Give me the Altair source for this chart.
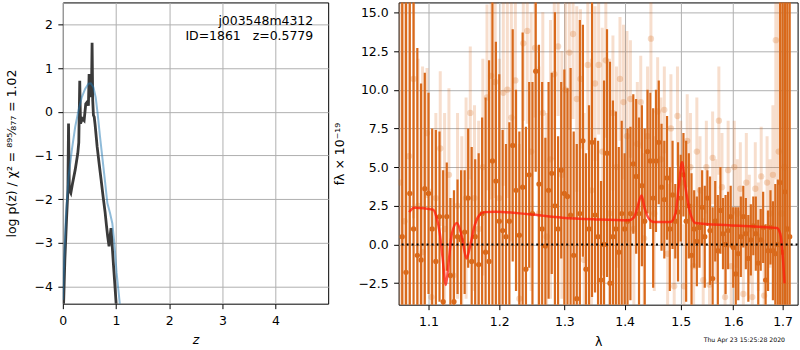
import altair as alt
import pandas as pd

# ---------------- left panel: redshift PDF ----------------
z_pz = [0.0, 0.013, 0.038, 0.069, 0.095, 0.107, 0.122, 0.15, 0.182, 0.232,
        0.281, 0.30, 0.318, 0.332, 0.369, 0.4, 0.431, 0.457, 0.481, 0.494,
        0.513, 0.525, 0.537, 0.55, 0.562, 0.575, 0.59, 0.607, 0.645, 0.682,
        0.72, 0.757, 0.795, 0.82, 0.843, 0.869, 0.888, 0.906, 0.925, 0.949,
        0.98, 1.0, 1.02]
logp_pz = [-4.6, -4.44, -3.38, -2.47, -1.8, -0.27, -1.79, -1.86, -1.64, -1.33,
           -0.95, -0.7, 0.71, -0.27, -0.16, -0.2, 0.18, 0.22, 0.14, 0.86,
           0.6, 0.83, 0.33, 1.58, 0.26, -0.08, -0.12, -0.3, -0.8, -1.18,
           -1.56, -1.94, -2.3, -2.6, -2.85, -3.08, -2.85, -2.66, -3.0, -3.45,
           -3.99, -4.35, -4.75]

z_chi = [0.0, 0.026, 0.056, 0.107, 0.169, 0.232, 0.294, 0.356, 0.419, 0.481,
         0.525, 0.575, 0.618, 0.655, 0.70, 0.749, 0.79, 0.837, 0.888, 0.93,
         0.968, 1.011, 1.056, 1.08]
logp_chi = [-4.3, -3.38, -2.4, -1.49, -0.88, -0.35, 0.03, 0.33, 0.52, 0.64,
            0.65, 0.56, 0.33, -0.05, -0.58, -1.11, -1.56, -2.09, -2.32, -2.55,
            -3.0, -3.68, -4.21, -4.5]

z_ticks = [0, 1, 2, 3, 4]
logp_ticks = [-4, -3, -2, -1, 0, 1, 2]

field_name = "j003548m4312"
id_label = "ID=1861\u00a0\u00a0\u00a0z=0.5779"
left_ytitle = "log p(z) / \u03c7\u00b2 = \u2078\u2079\u2075\u2044\u2088\u2087\u2087 = 1.02"

# ---------------- right panel: 1D spectrum ----------------
dark_wave = [
    1.065, 1.070, 1.075, 1.080, 1.085, 1.090, 1.095,
    1.100, 1.105, 1.110, 1.115, 1.120, 1.125, 1.130, 1.135, 1.140, 1.145,
    1.150, 1.155, 1.160, 1.165, 1.170, 1.175, 1.180, 1.185, 1.190, 1.195,
    1.200, 1.205, 1.210, 1.215, 1.220, 1.225, 1.230, 1.235, 1.240, 1.245,
    1.250, 1.255, 1.260, 1.265, 1.270, 1.275, 1.280, 1.285, 1.290, 1.295,
    1.300, 1.305, 1.310, 1.315, 1.320, 1.325, 1.330, 1.335, 1.340, 1.345,
    1.350,
    1.355, 1.360, 1.365, 1.370, 1.375, 1.380, 1.385, 1.390, 1.395, 1.400,
    1.405, 1.410, 1.415, 1.420, 1.425, 1.430, 1.435, 1.440, 1.445, 1.450,
    1.455, 1.460, 1.465, 1.470, 1.475, 1.480, 1.485, 1.490, 1.495, 1.500,
    1.505, 1.510, 1.515, 1.520, 1.525, 1.530,
    1.535, 1.540, 1.545, 1.550, 1.555, 1.560, 1.565, 1.570, 1.575, 1.580,
    1.585, 1.590, 1.595, 1.600, 1.605, 1.610, 1.615, 1.620, 1.625, 1.630,
    1.635, 1.640, 1.645, 1.650, 1.655, 1.660, 1.665, 1.670, 1.675, 1.680,
    1.685, 1.690,
    1.695, 1.700, 1.705, 1.710, 1.715,
]
dark_flux = [
    0.5, -1.8, 3.3, 1.0, -0.7, -1.0, 3.6,
    3.3, 1.0, -1.1, 1.8, -3.7, 1.8, -2.0, -3.7, 0.5, 0.3,
    0.8, 3.0, -1.1, 0.5, -1.3, 2.0, -0.5, -1.1, 5.4, 4.1,
    1.5, 0.9, 0.5, 1.5, 6.4, 3.5, 0.6, 3.7, -1.6, 4.5,
    2.0, 11.2, 3.9, 1.0, -0.1, 3.5, 4.6, 2.5, 1.0, 4.8,
    3.3, 3.1, 1.9, -0.7, -3.5, 2.0, 6.7, -1.6, 1.0, 6.6,
    1.9,
    0.5, -2.3, 0.0, 5.9, -2.5, 0.5, 1.0, -0.5, 2.0, 1.0,
    1.5, 2.0, 5.2, 4.4, 2.0, 3.8, 1.5, 6.0, 5.4, 3.0,
    5.4, 6.6, 3.7, 2.9, 4.3, 1.0, 3.2, 1.5, 2.1, 3.0,
    4.5, 1.5, 2.5, -0.7, 1.0, 0.2,
    1.1, 2.4, 0.5, 3.0, 0.9, -2.2, 1.5, -0.4, 2.2, 0.7,
    0.0, 0.9, 1.8, -0.2, -1.9, -0.6, 0.5, 1.8, 0.7, -0.9,
    0.3, 1.2, 0.7, -1.2, 0.3, 1.1, -2.3, -0.4, 1.1, -0.4,
    -0.6, 0.0,
    4.0, -0.5, 3.4, 1.0, 0.5,
]
dark_err = [
    18, 18, 17, 16, 13.4, 11.4, 7.5,
    6.5, 6.5, 8.5, 5.5, 8.5, 3.5, 5.0, 7.2, 3.7, 4.5,
    4.0, 4.5, 7.4, 5.0, 7.2, 6.2, 10.0, 13.0, 10.5, 9.0,
    9.5, 6.5, 6.0, 6.4, 7.5, 6.5, 6.7, 10.0, 9.2, 6.0,
    8.5, 6.5, 9.0, 9.5, 7.0, 7.0, 6.5, 12.5, 6.0, 5.7,
    8.0, 7.0, 9.5, 8.0, 10.0, 12.5, 7.5, 7.5, 8.0, 10.0,
    5.0,
    6.2, 6.4, 10.6, 8.0, 14.3, 8.8, 7.6, 6.8, 6.0, 4.9,
    6.0, 5.6, 4.5, 5.0, 6.2, 5.2, 6.0, 4.0, 4.4, 5.8,
    4.6, 4.0, 4.1, 3.8, 4.0, 4.0, 3.5, 2.4, 4.5, 2.8,
    2.7, 5.2, 3.4, 5.3, 2.5, 2.9,
    2.6, 2.4, 3.3, 1.8, 3.5, 4.6, 2.6, 3.6, 2.8, 2.3,
    3.2, 2.5, 2.0, 2.6, 4.3, 3.0, 2.6, 2.0, 2.3, 2.8,
    2.3, 1.9, 2.4, 2.8, 2.0, 2.3, 3.6, 2.6, 2.4, 3.2,
    4.5, 4.2,
    20, 20, 20, 20, 20,
]

light_wave = [
    1.062, 1.068, 1.074, 1.080, 1.086, 1.092, 1.098, 1.104, 1.110, 1.116,
    1.122, 1.128, 1.134, 1.140, 1.146, 1.152, 1.158, 1.164, 1.170, 1.176,
    1.182, 1.188, 1.194, 1.200, 1.206, 1.212, 1.218, 1.224, 1.230, 1.236,
    1.242, 1.248, 1.254, 1.260, 1.266, 1.272, 1.278, 1.284, 1.290, 1.296,
    1.302, 1.308, 1.314, 1.320, 1.326, 1.332, 1.338, 1.344, 1.350, 1.356,
    1.362, 1.368, 1.374, 1.380, 1.386, 1.392, 1.398, 1.404, 1.410, 1.416,
    1.422, 1.428, 1.434, 1.440, 1.446, 1.452, 1.458, 1.464, 1.470, 1.476,
    1.482, 1.488, 1.494, 1.500, 1.506, 1.512, 1.518, 1.524, 1.530, 1.536,
    1.542, 1.548, 1.554, 1.560, 1.566, 1.572, 1.578, 1.584, 1.590, 1.596,
    1.602, 1.608, 1.614, 1.620, 1.626, 1.632, 1.638, 1.644, 1.650, 1.656,
    1.662, 1.668, 1.674, 1.680, 1.686, 1.692, 1.698, 1.704, 1.710,
]
light_flux = [
    4.0, 1.5, 5.7, 10.7, 2.5, -0.5, 7.2, -3.4, 3.0, 6.2,
    1.0, 4.5, -2.0, 2.5, 0.5, 3.0, 8.5, 3.0, 1.0, 5.0,
    9.5, 10.9, 10.5, 3.0, 9.8, 10.0, 8.2, 10.6, -3.5, 13.0,
    13.8, 6.0, 12.7, 2.0, 8.5, 0.5, 5.5, 11.0, 12.8, 4.5,
    10.0, 12.4, 13.6, 9.4, 10.7, -1.0, 11.6, 3.5, 10.4, 11.6,
    6.0, 11.9, 2.0, 8.5, 5.0, 10.7, 9.2, 7.0, 9.4, 1.0,
    6.5, 9.2, 0.4, 7.0, 13.3, 2.0, 8.6, 5.5, 8.7, -0.6,
    7.5, -2.7, 8.3, 4.0, -2.7, 6.7, 5.0, -1.4, 6.0, 3.5,
    -2.3, 5.0, -2.6, 5.6, 1.5, 8.0, 3.7, -3.4, 4.8, -1.4,
    5.0, 2.0, 3.6, -3.2, 4.0, 1.0, -3.4, 3.6, 0.5, 4.4,
    -3.3, 4.0, 2.0, 4.5, 13.2, 6.0, 2.0, 5.0, 1.0,
]
light_err = [
    15, 16, 12, 9, 9.5, 12, 4.2, 7.0, 5.5, 5.0,
    7.5, 5.6, 5.0, 6.0, 6.5, 6.5, 4.3, 6.0, 7.0, 7.0,
    6.0, 8.0, 7.5, 9.0, 6.0, 7.0, 8.0, 7.0, 10.0, 5.0,
    6.0, 9.0, 4.5, 9.5, 6.5, 8.0, 9.0, 5.5, 4.5, 8.0,
    6.5, 5.0, 5.5, 6.0, 4.5, 9.5, 5.5, 8.5, 5.0, 4.5,
    8.0, 5.0, 10.0, 5.0, 6.5, 4.0, 5.0, 6.8, 3.8, 6.5,
    4.0, 3.0, 5.5, 4.5, 3.5, 5.0, 3.5, 4.0, 2.8, 4.5,
    3.5, 4.5, 3.2, 4.0, 4.0, 3.0, 3.5, 4.0, 3.5, 3.5,
    4.0, 3.0, 3.8, 3.0, 4.0, 3.5, 3.5, 4.0, 3.2, 3.8,
    3.0, 3.5, 3.0, 4.0, 3.2, 3.5, 3.8, 3.0, 3.5, 3.2,
    3.6, 3.0, 3.5, 4.5, 9.0, 16, 18, 18, 18,
]

model_wave = [1.0742, 1.0808, 1.1063, 1.1108, 1.1155, 1.1191, 1.1238, 1.1274, 1.1321, 1.1391,
              1.1461, 1.1526, 1.1575, 1.1636, 1.1708, 1.1780, 1.1950, 1.2448, 1.2967, 1.3509,
              1.4072, 1.4158, 1.4216, 1.4293, 1.4351, 1.4422, 1.4511, 1.4811, 1.4902, 1.4963,
              1.5024, 1.5087, 1.5180, 1.5273, 1.5910, 1.6573, 1.6881, 1.6952, 1.7000, 1.7042]
model_flux = [2.09, 2.38, 2.25, 1.77, 0.70, -0.80, -2.62, -1.23, 0.70, 1.39,
              0.49, -0.90, -0.16, 1.13, 1.88, 2.09, 2.12, 1.95, 1.73, 1.62,
              1.56, 1.73, 2.31, 3.17, 2.31, 1.67, 1.45, 1.45, 1.99, 3.70,
              5.31, 3.70, 1.99, 1.39, 1.24, 1.13, 1.06, 0.70, -0.58, -2.51]

wave_ticks = [1.1, 1.2, 1.3, 1.4, 1.5, 1.6, 1.7]
flux_ticks = [-2.5, 0.0, 2.5, 5.0, 7.5, 10.0, 12.5, 15.0]
right_ytitle = "f\u03bb \u00d7 10\u207b\u00b9\u2079"
timestamp = "Thu Apr 23 15:25:28 2020"

FONT = "DejaVu Sans"
DARK = "#d96a1c"

# ---------------- build left chart ----------------
pz_df = pd.DataFrame({"z": z_pz, "logp": logp_pz})
chi_df = pd.DataFrame({"z": z_chi, "logp": logp_chi})

zx = alt.X("z:Q", scale=alt.Scale(domain=[0, 4.99], nice=False, zero=False),
           axis=alt.Axis(values=z_ticks, format="d", title="z", titleFontStyle="italic",
                         titleY=39.6, titleBaseline="alphabetic"))
ly = alt.Y("logp:Q", scale=alt.Scale(domain=[-4.39, 2.5], nice=False, zero=False),
           axis=alt.Axis(values=logp_ticks, format="d", title=left_ytitle,
                         titleX=-47.5, titleBaseline="alphabetic"))

black_line = alt.Chart(pz_df).mark_line(color="#3a3a3a", strokeWidth=2.8, clip=True).encode(
    x=zx, y=ly, order="z:Q")
blue_line = alt.Chart(chi_df).mark_line(color="#1f77b4", opacity=0.5, strokeWidth=2, clip=True).encode(
    x=zx, y=ly, order="z:Q")

txt_df = pd.DataFrame({"a": [field_name], "b": [id_label]})
t1 = alt.Chart(txt_df).mark_text(align="right", baseline="alphabetic", font=FONT,
                                 fontSize=12.5, color="black").encode(
    x=alt.value(251), y=alt.value(22.7), text="a:N")
t2 = alt.Chart(txt_df).mark_text(align="right", baseline="alphabetic", font=FONT,
                                 fontSize=12.5, color="black").encode(
    x=alt.value(251), y=alt.value(38.0), text="b:N")

left = alt.layer(black_line, blue_line, t1, t2).properties(width=266, height=302)

# ---------------- build right chart ----------------
dark_df = pd.DataFrame({"wave": dark_wave, "flux": dark_flux, "err": dark_err})
dark_df["lo"] = dark_df["flux"] - dark_df["err"]
dark_df["hi"] = dark_df["flux"] + dark_df["err"]
light_df = pd.DataFrame({"wave": light_wave, "flux": light_flux, "err": light_err})
light_df["lo"] = light_df["flux"] - light_df["err"]
light_df["hi"] = light_df["flux"] + light_df["err"]
model_df = pd.DataFrame({"wave": model_wave, "flux": model_flux})
zero_df = pd.DataFrame({"flux": [0.0]})

wx = alt.X("wave:Q", scale=alt.Scale(type="log", domain=[1.0603, 1.7318], nice=False, zero=False),
           axis=alt.Axis(values=wave_ticks, format=".1f", title="\u03bb",
                         titleY=40.7, titleBaseline="alphabetic"))
yscale = alt.Scale(domain=[-3.89, 15.64], nice=False, zero=False)
yaxis = alt.Axis(values=flux_ticks, format=".1f", title=right_ytitle,
                 titleX=-55, titleBaseline="alphabetic")

def fy(field):
    return alt.Y(field + ":Q", scale=yscale, axis=yaxis)

dark_bars = alt.Chart(dark_df).mark_rule(color=DARK, strokeWidth=2.2, clip=True).encode(
    x=wx, y=fy("lo"), y2="hi:Q")
dark_pts = alt.Chart(dark_df).mark_circle(color=DARK, size=28, opacity=1, clip=True).encode(
    x=wx, y=fy("flux"))
light_bars = alt.Chart(light_df).mark_rule(color=DARK, strokeWidth=3, opacity=0.22, clip=True).encode(
    x=wx, y=fy("lo"), y2="hi:Q")
light_pts = alt.Chart(light_df).mark_circle(color=DARK, size=40, opacity=0.25, clip=True).encode(
    x=wx, y=fy("flux"))
model_line = alt.Chart(model_df).mark_line(color="#ff1a0a", opacity=0.75, strokeWidth=2.5,
                                           interpolate="monotone", clip=True).encode(
    x=wx, y=fy("flux"), order="wave:Q")
zero_line = alt.Chart(zero_df).mark_rule(color="black", strokeWidth=2, strokeDash=[2, 3]).encode(
    y=fy("flux"))

ts_df = pd.DataFrame({"t": [timestamp]})
ts = alt.Chart(ts_df).mark_text(align="right", baseline="alphabetic", font=FONT,
                                fontSize=6.2, color="black").encode(
    x=alt.value(387.4), y=alt.value(340.7), text="t:N")

right = alt.layer(dark_bars, dark_pts, light_bars, light_pts, model_line, zero_line, ts).properties(
    width=400, height=303)

chart = alt.hconcat(left, right, spacing=70.6, bounds="flush").properties(
    padding={"left": 5, "top": 1, "right": 0, "bottom": 0},
    background="white",
).configure_view(
    stroke="black", strokeWidth=1
).configure_axis(
    grid=True, gridColor="#b0b0b0", gridWidth=1, domain=False,
    tickColor="black", tickSize=5, tickWidth=1,
    labelFont=FONT, labelFontSize=12.5, labelColor="black", labelPadding=5.5,
    labelFlush=False,
    titleFont=FONT, titleFontSize=12.5, titleColor="black", titleFontWeight="normal",
    zindex=1,
).configure_axisX(labelPadding=6)

chart.save("out.html", embed_options={"renderer": "svg", "actions": False})
